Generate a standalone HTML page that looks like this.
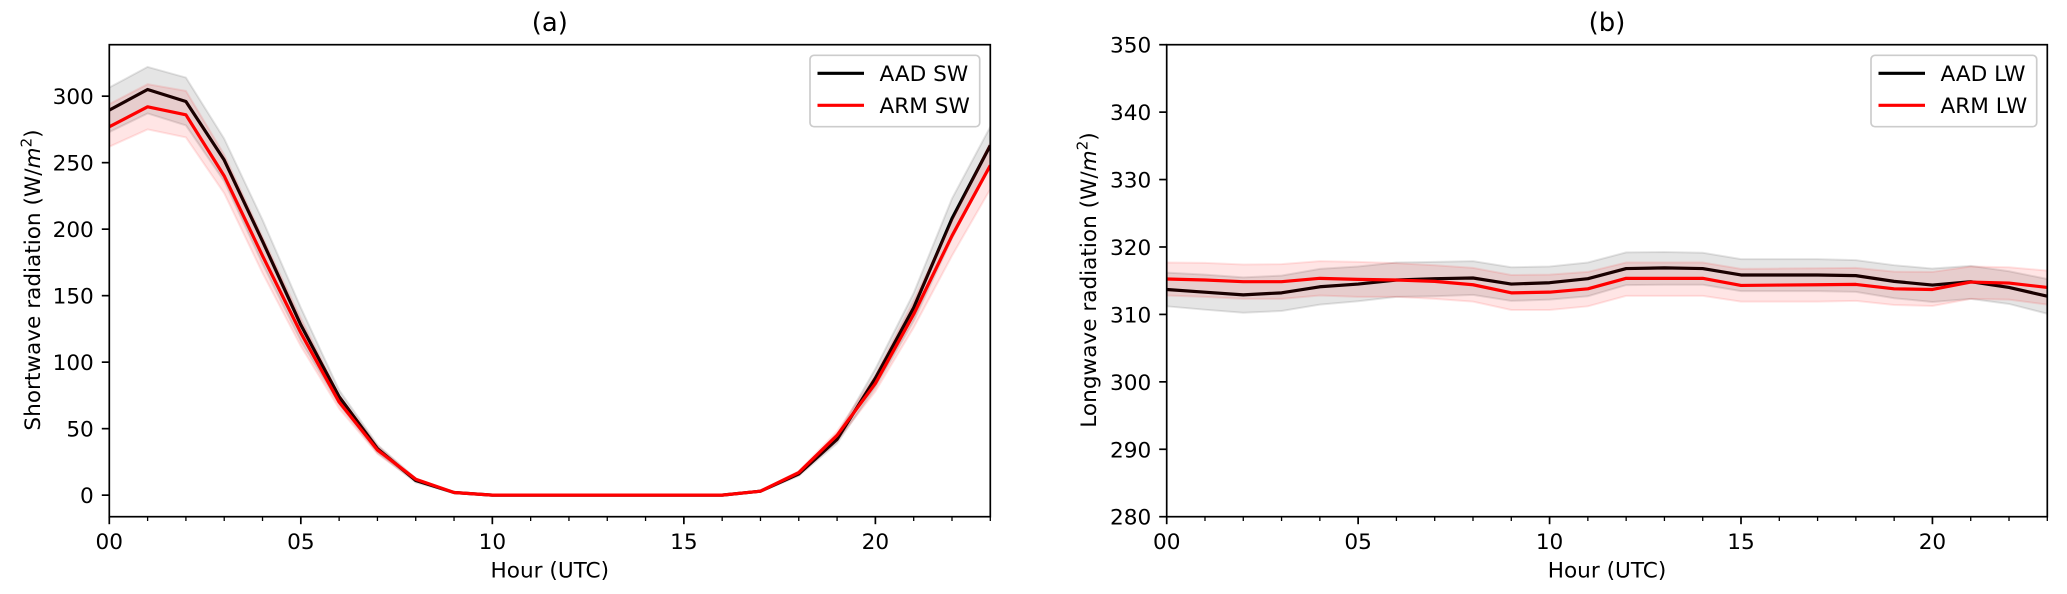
<!DOCTYPE html>
<html lang="en">
<head>
<meta charset="utf-8">
<title>Shortwave and longwave radiation by hour</title>
<style>
html,body{margin:0;padding:0;background:#fff;}
svg{display:block;}
text{font-family:"DejaVu Sans","Liberation Sans",sans-serif;fill:#000;}
</style>
</head>
<body>
<svg id="chart" xmlns="http://www.w3.org/2000/svg" width="2067" height="594" viewBox="0 0 2067 594">
<rect width="2067" height="594" fill="#fff"/>
<defs>
<clipPath id="clip-a"><rect x="109.3" y="44.7" width="881" height="472"/></clipPath>
<clipPath id="clip-b"><rect x="1166.7" y="44.7" width="880.6" height="472"/></clipPath>
</defs>
<g id="panel-a"></g>
<g id="panel-b"></g>
</svg>
<script>
const hours = [0,1,2,3,4,5,6,7,8,9,10,11,12,13,14,15,16,17,18,19,20,21,22,23];
const xTickValues = [0,5,10,15,20];
const xTickLabels = ['00','05','10','15','20'];

const swTicks = [0,50,100,150,200,250,300];
const swTickLabels = ['0','50','100','150','200','250','300'];
const lwTicks = [280,290,300,310,320,330,340,350];
const lwTickLabels = ['280','290','300','310','320','330','340','350'];

const aadSw = [289.5,305,296,252,191,128,74,35,11,2,0,0,0,0,0,0,0,3,16,42,88,141,208,263];
const aadSwUpper = [306.5,322,314,268,207,141,79,38,12.5,2.5,0,0,0,0,0,0,0,3.5,17.5,45,95,152,223,277];
const aadSwLower = [273,287,278,236,174,116,68,32,9.5,1.5,0,0,0,0,0,0,0,2.5,14.5,39,81,131,193,249];
const armSw = [277,292,286,240,180,122,70,34,12,2,0,0,0,0,0,0,0,3,17,45,84,136,195,248];
const armSwUpper = [294,309,304,256,194,133,75,37,12.5,2.5,0,0,0,0,0,0,0,3.5,18,48,90,146,206,265];
const armSwLower = [262,275,269,227,167,112,65,31,10.5,1.5,0,0,0,0,0,0,0,2.5,15,41,78,126,180,230];

const aadLw = [313.7,313.3,312.9,313.2,314.1,314.5,315.1,315.3,315.4,314.5,314.7,315.3,316.8,316.9,316.8,315.85,315.85,315.85,315.75,314.9,314.35,314.85,314,312.7];
const aadLwUpper = [316.2,315.9,315.5,315.75,316.75,317.1,317.7,317.8,317.9,317,317.1,317.7,319.2,319.25,319.15,318.2,318.2,318.2,318.05,317.3,316.8,317.2,316.4,315.25];
const aadLwLower = [311.2,310.7,310.25,310.5,311.45,311.95,312.6,312.7,312.9,312,312.2,312.7,314.35,314.4,314.4,313.45,313.45,313.45,313.35,312.4,311.85,312.3,311.55,310.1];
const armLw = [315.25,315.1,314.85,314.85,315.35,315.2,315.1,314.9,314.4,313.2,313.3,313.8,315.35,315.35,315.35,314.3,314.35,314.4,314.45,313.8,313.7,314.8,314.65,314];
const armLwUpper = [317.7,317.65,317.4,317.45,317.9,317.8,317.6,317.3,316.9,315.85,315.9,316.3,317.7,317.7,317.7,316.75,316.8,316.85,316.9,316.35,316.3,317.1,317,316.5];
const armLwLower = [312.8,312.6,312.3,312.3,312.8,312.6,312.6,312.3,311.9,310.65,310.65,311.2,312.75,312.75,312.75,311.9,311.9,311.9,312,311.4,311.25,312.3,312.2,311.45];

const NS = 'http://www.w3.org/2000/svg';
const FONT = 21.6;

function make(parent, tag, attrs, name) {
  const el = document.createElementNS(NS, tag);
  for (const k in attrs) el.setAttribute(k, attrs[k]);
  
  
  parent.appendChild(el);
  return el;
}

function drawPanel(cfg) {
  const g = document.getElementById(cfg.id);
  const L = cfg.left, R = cfg.right, T = 44.7, B = 516.7;
  const xScale = h => L + (h - 0) / 23 * (R - L);
  const yScale = v => B - (v - cfg.yMin) / (cfg.yMax - cfg.yMin) * (B - T);
  const linePath = vals => vals.map((v, i) => (i ? 'L' : 'M') + xScale(hours[i]).toFixed(2) + ' ' + yScale(v).toFixed(2)).join('');
  const bandPath = (up, lo) => {
    let d = linePath(up);
    for (let i = lo.length - 1; i >= 0; i--) d += 'L' + xScale(hours[i]).toFixed(2) + ' ' + yScale(lo[i]).toFixed(2);
    return d + 'Z';
  };

  const plot = make(g, 'g', {'clip-path': 'url(#' + cfg.clip + ')'}, cfg.prefix + '-plot-area');
  cfg.series.forEach(s => {
    make(plot, 'path', {d: bandPath(s.upper, s.lower), fill: s.color, 'fill-opacity': 0.1, stroke: s.color, 'stroke-opacity': 0.1, 'stroke-width': 2}, s.key + '-band');
    make(plot, 'path', {d: linePath(s.values), fill: 'none', stroke: s.color, 'stroke-width': 3.2, 'stroke-linejoin': 'round', 'stroke-linecap': 'butt'}, s.key + '-line');
  });

  // Axes frame
  make(g, 'rect', {x: L, y: T, width: R - L, height: B - T, fill: 'none', stroke: '#000', 'stroke-width': 1.7}, cfg.prefix + '-axes-frame');

  // X ticks
  hours.forEach(h => {
    const major = xTickValues.indexOf(h) >= 0;
    make(g, 'line', {x1: xScale(h), x2: xScale(h), y1: B, y2: B + (major ? 7.5 : 4.3), stroke: '#000', 'stroke-width': major ? 1.7 : 1.3}, cfg.prefix + (major ? '-x-major-tick' : '-x-minor-tick'));
  });
  xTickValues.forEach((h, i) => {
    const t = make(g, 'text', {x: xScale(h), y: 549, 'text-anchor': 'middle', 'font-size': FONT}, cfg.prefix + '-x-tick-label');
    t.textContent = xTickLabels[i];
  });

  // Y ticks
  cfg.yTicks.forEach((v, i) => {
    make(g, 'line', {x1: L - 7.5, x2: L, y1: yScale(v), y2: yScale(v), stroke: '#000', 'stroke-width': 1.7}, cfg.prefix + '-y-tick');
    const t = make(g, 'text', {x: L - 15.5, y: yScale(v) + 8, 'text-anchor': 'end', 'font-size': FONT}, cfg.prefix + '-y-tick-label');
    t.textContent = cfg.yTickLabels[i];
  });

  // Title and axis labels
  const cx = (L + R) / 2;
  const title = make(g, 'text', {x: cx, y: 31, 'text-anchor': 'middle', 'font-size': 25.9}, cfg.prefix + '-title');
  title.textContent = cfg.title;
  const xl = make(g, 'text', {x: cx, y: 577.5, 'text-anchor': 'middle', 'font-size': FONT}, cfg.prefix + '-x-axis-title');
  xl.textContent = 'Hour (UTC)';

  const yl = make(g, 'text', {transform: 'translate(' + cfg.yLabelX + ' 280) rotate(-90)', 'text-anchor': 'middle', 'font-size': FONT}, cfg.prefix + '-y-axis-title');
  yl.appendChild(document.createTextNode(cfg.yLabel + ' (W/'));
  const m = document.createElementNS(NS, 'tspan');
  m.setAttribute('font-style', 'italic');
  m.textContent = 'm';
  yl.appendChild(m);
  const sup = document.createElementNS(NS, 'tspan');
  sup.setAttribute('font-size', '15');
  sup.setAttribute('dy', '-8.5');
  sup.textContent = '2';
  yl.appendChild(sup);
  const close = document.createElementNS(NS, 'tspan');
  close.setAttribute('dy', '8.5');
  close.textContent = ')';
  yl.appendChild(close);

  // Legend
  const lg = make(g, 'g', {}, cfg.prefix + '-legend');
  make(lg, 'rect', {x: cfg.legX, y: 55.3, width: cfg.legW, height: 71.4, rx: 4, ry: 4, fill: '#fff', 'fill-opacity': 0.8, stroke: '#ccc', 'stroke-width': 1.7}, cfg.prefix + '-legend-frame');
  cfg.series.forEach((s, i) => {
    const y = 73.3 + i * 32;
    make(lg, 'line', {x1: cfg.legX + 7.5, x2: cfg.legX + 54, y1: y, y2: y, stroke: s.color, 'stroke-width': 3.2}, s.key + '-legend-line');
    const t = make(lg, 'text', {x: cfg.legX + 69.5, y: y + 7.8, 'font-size': FONT}, s.key + '-legend-label');
    t.textContent = s.label;
  });
}

drawPanel({
  id: 'panel-a', prefix: 'shortwave', clip: 'clip-a', left: 109.3, right: 990.3,
  yMin: -16.2, yMax: 338.7, yTicks: swTicks, yTickLabels: swTickLabels,
  title: '(a)', yLabel: 'Shortwave radiation', yLabelX: 40, legX: 810, legW: 169.7,
  series: [
    {key: 'aad-sw', label: 'AAD SW', color: '#000000', values: aadSw, upper: aadSwUpper, lower: aadSwLower},
    {key: 'arm-sw', label: 'ARM SW', color: '#ff0000', values: armSw, upper: armSwUpper, lower: armSwLower}
  ]
});

drawPanel({
  id: 'panel-b', prefix: 'longwave', clip: 'clip-b', left: 1166.7, right: 2047.3,
  yMin: 280, yMax: 350, yTicks: lwTicks, yTickLabels: lwTickLabels,
  title: '(b)', yLabel: 'Longwave radiation', yLabelX: 1096, legX: 1871, legW: 165.7,
  series: [
    {key: 'aad-lw', label: 'AAD LW', color: '#000000', values: aadLw, upper: aadLwUpper, lower: aadLwLower},
    {key: 'arm-lw', label: 'ARM LW', color: '#ff0000', values: armLw, upper: armLwUpper, lower: armLwLower}
  ]
});
</script>
</body>
</html>
